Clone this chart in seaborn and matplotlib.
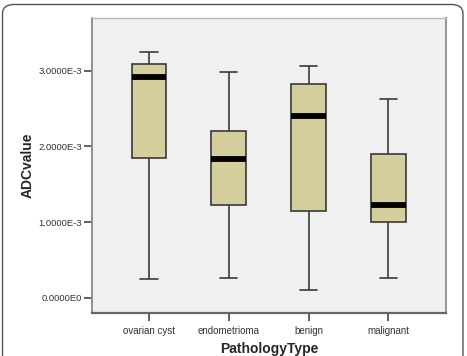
import matplotlib
matplotlib.use("Agg")
import matplotlib.pyplot as plt
from matplotlib.patches import FancyBboxPatch
import seaborn as sns
import pandas as pd
import numpy as np

categories = ["ovarian cyst", "endometrioma", "benign", "malignant"]
# five-number summaries: min, Q1, median, Q3, max
ovarian_cyst = [0.25e-3, 1.85e-3, 2.92e-3, 3.09e-3, 3.25e-3]
endometrioma = [0.265e-3, 1.23e-3, 1.83e-3, 2.20e-3, 2.99e-3]
benign = [0.105e-3, 1.15e-3, 2.40e-3, 2.83e-3, 3.06e-3]
malignant = [0.257e-3, 1.00e-3, 1.22e-3, 1.90e-3, 2.63e-3]
ytick_values = [0.0, 1.0e-3, 2.0e-3, 3.0e-3]
ytick_labels = ["0.0000E0", "1.0000E-3", "2.0000E-3", "3.0000E-3"]

series = [ovarian_cyst, endometrioma, benign, malignant]
df = pd.DataFrame({
    "PathologyType": np.repeat(categories, [len(s) for s in series]),
    "ADCvalue": np.concatenate(series),
})

sns.set_style("white")
plt.rcParams["font.family"] = ["Liberation Sans", "DejaVu Sans"]

W, H = 467, 356
fig = plt.figure(figsize=(W / 100, H / 100), dpi=100)
ax = fig.add_axes([92 / W, 1 - 313 / H, (446 - 92) / W, (313 - 18) / H])

edge = "#3a3a3a"
sns.boxplot(data=df, x="PathologyType", y="ADCvalue", order=categories,
            color="#D4CF9C", width=0.43, whis=np.inf, saturation=1,
            linecolor=edge, linewidth=1.2,
            medianprops=dict(color="black", linewidth=4.2, solid_capstyle="butt"),
            whiskerprops=dict(color=edge, linewidth=1.2),
            capprops=dict(color=edge, linewidth=1.2),
            capwidths=0.22,
            ax=ax)

ax.set_facecolor("#F0F0F0")
ax.set_xlim(-0.71, 3.72)
ax.set_ylim(-0.203e-3, 3.70e-3)
ax.set_yticks(ytick_values)
ax.set_yticklabels(ytick_labels)
ax.tick_params(axis="both", which="both", direction="out", length=6, width=1.2,
               color="#444444", labelsize=7, labelcolor="#333333", pad=1,
               left=True, bottom=True)
ax.tick_params(axis="x", pad=3)
for lab in ax.get_xticklabels():
    lab.set_fontsize(7)
    lab.set_color("#333333")
for lab in ax.get_yticklabels():
    lab.set_fontsize(6.8)
ax.set_xlabel("PathologyType", fontsize=10, fontweight="bold")
ax.xaxis.set_label_coords(0.5, (313 - 342) / 295)
ax.set_ylabel("ADCvalue", fontsize=10, fontweight="bold", labelpad=3)

for s in ["left", "bottom"]:
    ax.spines[s].set_color("#666666")
    ax.spines[s].set_linewidth(1.6)
ax.spines["left"].set_color("#888888")
ax.spines["left"].set_linewidth(1.3)
ax.spines["top"].set_color("#BBBBBB")
ax.spines["top"].set_linewidth(1.0)
ax.spines["right"].set_color("#999999")
ax.spines["right"].set_linewidth(1.5)

frame = FancyBboxPatch((2.5 / W, -0.2), (463 - 2.5) / W, 1.2 - 4.5 / H,
                       boxstyle="round,pad=0,rounding_size=0.025",
                       transform=fig.transFigure, facecolor="none",
                       edgecolor="#555555", linewidth=1.0, clip_on=False)
fig.patches.append(frame)

fig.savefig("out.png", dpi=100)
